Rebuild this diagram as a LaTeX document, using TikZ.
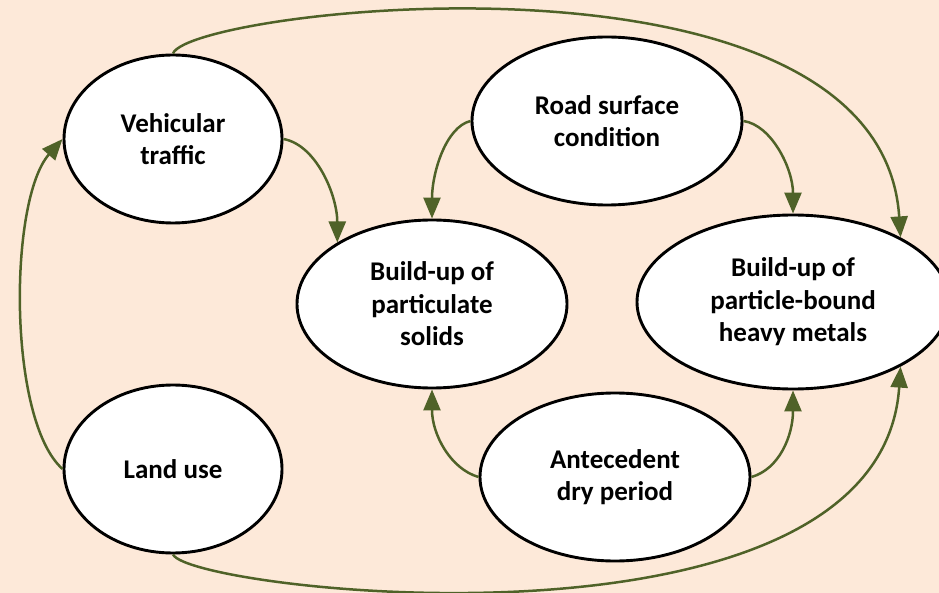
\documentclass[tikz,border=0pt]{standalone}
\usepackage{fontspec}
\setmainfont{Carlito}
\usetikzlibrary{arrows.meta,shapes.geometric}
\definecolor{bgpeach}{HTML}{FDE9D9}
\definecolor{olivearrow}{HTML}{4F6228}
\tikzset{
  bubble/.style={ellipse, draw=black, line width=2.9pt, fill=white, inner sep=0pt,
    align=center, font=\fontsize{27}{32.5}\selectfont\bfseries},
  small/.style={bubble, minimum width=218pt, minimum height=168pt},
  wide/.style={bubble, minimum width=270pt, minimum height=168pt},
  huge/.style={bubble, minimum width=312pt, minimum height=174pt},
  link/.style={draw=olivearrow, line width=2.5pt,
    -{Triangle[length=21pt,width=17pt]}, fill=none}
}
\begin{document}
\begin{tikzpicture}[x=1pt,y=-1pt]
\useasboundingbox (0,0) rectangle (939,593);
\clip (0,0) rectangle (939,593);
\fill[bgpeach] (0,0) rectangle (939,593);

\node[small] (VT) at (173,139) {Vehicular\\traffic};
\node[wide]  (RS) at (607,121) {Road surface\\condition};
\node[wide]  (PS) at (432,304) {Build-up of\\particulate\\solids};
\node[huge]  (HM) at (793,302) {Build-up of\\particle-bound\\heavy metals};
\node[small] (LU) at (173,469) {Land use};
\node[wide]  (AD) at (615,477) {Antecedent\\dry period};

\draw[link] (VT.east) .. controls +(33,6) and +(0,-47) .. (PS.147);
\draw[link] (RS.west) .. controls +(-25,6) and +(0,-45) .. (PS.north);
\draw[link] (RS.east) .. controls +(28,4) and +(0,-45) .. (HM.north);
\draw[link] (VT.north) .. controls +(17,-45) and +(-20,-308) .. (HM.31);
\draw[link] (LU.west) .. controls +(-55,-49) and +(-54,61) .. (VT.west);
\draw[link] (AD.west) .. controls +(-28,-8) and +(0,45) .. (PS.south);
\draw[link] (AD.east) .. controls +(28,-8) and +(0,45) .. (HM.south);
\draw[link] (LU.south) .. controls +(17,37) and +(-20,303) .. (HM.-31);
\end{tikzpicture}
\end{document}
